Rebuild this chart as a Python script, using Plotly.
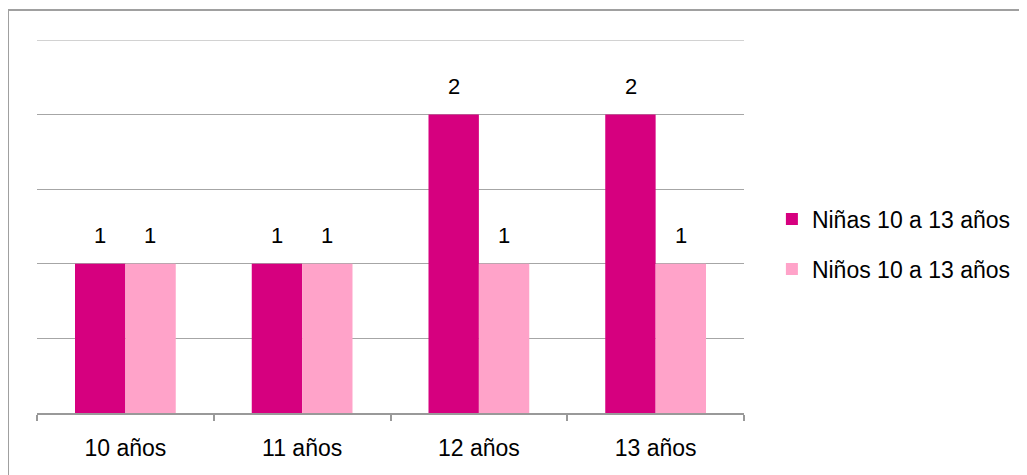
import plotly.graph_objects as go

categories = ["10 años", "11 años", "12 años", "13 años"]
ninas = [1, 1, 2, 2]
ninos = [1, 1, 1, 1]
y_max = 2.5

font_family = "Liberation Sans, Arial, sans-serif"

fig = go.Figure()
fig.add_trace(go.Bar(
    x=categories, y=ninas, name="Niñas 10 a 13 años",
    marker=dict(color="#D6007F", line=dict(width=0)),
    legendgroup="a",
))
fig.add_trace(go.Bar(
    x=categories, y=ninos, name="Niños 10 a 13 años",
    marker=dict(color="#FFA3C9", line=dict(width=0)),
    legendgroup="b",
))

# data labels, placed a bit higher above the bars than plotly's default
for vals, shift in [(ninas, -25), (ninos, 25)]:
    for cat, v in zip(categories, vals):
        fig.add_annotation(x=cat, y=v, text=str(v), showarrow=False,
                           xshift=shift, yshift=14, yanchor="bottom",
                           font=dict(size=22, color="black"))

# top gridline (plotly skips the one on the plot edge)
fig.add_shape(type="line", xref="paper", yref="y", x0=0, x1=1,
              y0=y_max, y1=y_max, line=dict(color="#A6A6A6", width=1.2))

# outer frame of the chart (only top and left edges fall inside the image)
fig.add_shape(type="rect", xref="paper", yref="paper",
              x0=-0.041, x1=1.41, y0=-0.19, y1=1.0804,
              line=dict(color="#A0A0A0", width=2), layer="below")

fig.update_layout(
    width=1019, height=467,
    margin=dict(l=29, r=282, t=32, b=62),
    paper_bgcolor="white", plot_bgcolor="white",
    font=dict(family=font_family, size=22, color="black"),
    barmode="group", bargap=0.43, bargroupgap=0,
    showlegend=True,
    legend=dict(x=1.038, y=0.453, xanchor="left", yanchor="middle",
                traceorder="grouped", tracegroupgap=17,
                font=dict(size=23), itemwidth=30),
    xaxis=dict(showline=True, linecolor="#999999", linewidth=1.5,
               ticks="outside", tickson="boundaries", ticklen=6,
               tickcolor="#999999", tickwidth=1.5, ticklabelstandoff=14,
               tickfont=dict(size=23), showgrid=False),
    yaxis=dict(range=[0, y_max], dtick=0.5, showticklabels=False,
               showgrid=True, gridcolor="#A6A6A6", gridwidth=1.2,
               zeroline=False, showline=False, ticks=""),
)

fig.write_html("out.html")
